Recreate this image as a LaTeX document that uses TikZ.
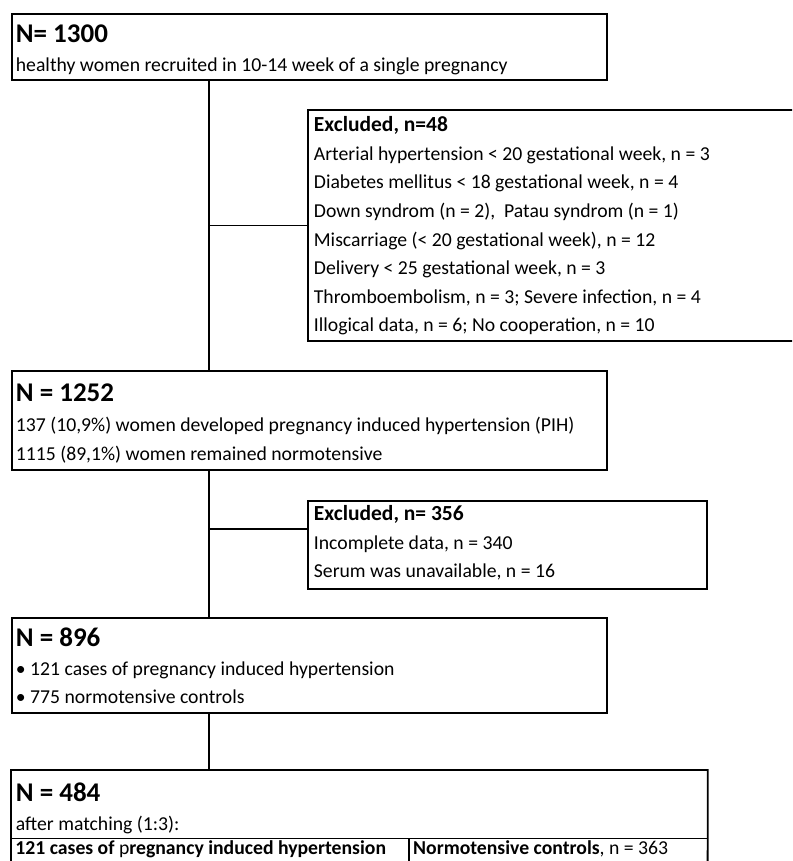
\documentclass[tikz,border=0pt]{standalone}
\usepackage{fontspec}
\setmainfont{Carlito}
\usetikzlibrary{positioning,calc}
\newcommand{\hd}[1]{{\fontsize{27}{30}\selectfont\bfseries #1}}
\newcommand{\exhd}[1]{{\fontsize{21.5}{28.6}\selectfont\bfseries #1}}

\begin{document}
\begin{tikzpicture}[x=1pt,y=-1pt,
    box/.style={draw, line width=1.8pt, anchor=north west, align=flush left, inner xsep=4pt, inner ysep=0pt, font=\fontsize{19.7}{28.6}\selectfont},
    excl/.style={box, inner xsep=6pt},
    cell/.style={draw, line width=0.8pt, align=flush left, inner xsep=4pt, inner ysep=0pt, text height=16pt, text depth=14.8pt, font=\fontsize{19.7}{24}\selectfont},
    link/.style={line width=1.8pt}]
    \clip (0,0) rectangle (792,861);
    % main boxes
    \node[box, text width=587pt, text height=28.7pt, text depth=37.3pt] (n1300) at (11,13) {\hd{N= 1300}\\[0.5pt]
        healthy women recruited in 10-14 week of a single pregnancy};
    \node[excl, text width=491pt, text height=21.8pt, text depth=209.2pt] (excl48) at (307,109) {\exhd{Excluded, n=48}\\
        Arterial hypertension < 20 gestational week, n = 3\\
        Diabetes mellitus < 18 gestational week, n = 4\\
        Down syndrom (n = 2),~ Patau syndrom (n = 1)\\
        Miscarriage (< 20 gestational week), n = 12\\
        Delivery < 25 gestational week, n = 3\\
        Thromboembolism, n = 3; Severe infection, n = 4\\
        Illogical data, n = 6; No cooperation, n = 10};
    \node[box, text width=587pt, text height=30.7pt, text depth=68.3pt] (n1252) at (11,370) {\hd{N = 1252}\\[1.5pt]
        137 (10,9\%) women developed pregnancy induced hypertension (PIH)\\
        1115 (89,1\%) women remained normotensive};
    \node[excl, text width=387pt, text height=19.8pt, text depth=68.2pt] (excl356) at (307,500) {\exhd{Excluded, n= 356}\\
        Incomplete data, n = 340\\
        Serum was unavailable, n = 16};
    \node[box, text width=587pt, text height=28.7pt, text depth=66.3pt] (n896) at (11,617) {\hd{N = 896}\\
        \textbullet{} 121 cases of pregnancy induced hypertension\\
        \textbullet{} 775 normotensive controls};
    \node[box, draw=none, text width=687pt, text height=30.7pt, text depth=35.3pt] (n484) at (11,770) {\hd{N = 484}\\
        after matching (1:3):};
    \node[cell, anchor=north west, text width=389pt] (cases) at (n484.south west) {\textbf{121 cases of }p\textbf{regnancy induced hypertension}};
    \node[cell, right=0pt of cases, text width=290pt] (controls) {\textbf{Normotensive controls}, n = 363};
    \draw[link] (cases.south west) -- (n484.north west) -- (n484.north east) -- (controls.south east);
    % connectors
    \coordinate (t) at ($(n1300.south west)+(198,0)$);
    \coordinate (b2) at ($(excl356.north west)+(0,29)$);
    \draw[link] (t) -- (t |- n1252.north);
    \draw[link] (t |- excl48.west) -- (excl48.west);
    \draw[link] (t |- n1252.south) -- (t |- n896.north);
    \draw[link] (t |- b2) -- (b2);
    \draw[link] (t |- n896.south) -- (t |- n484.north);
\end{tikzpicture}
\end{document}
